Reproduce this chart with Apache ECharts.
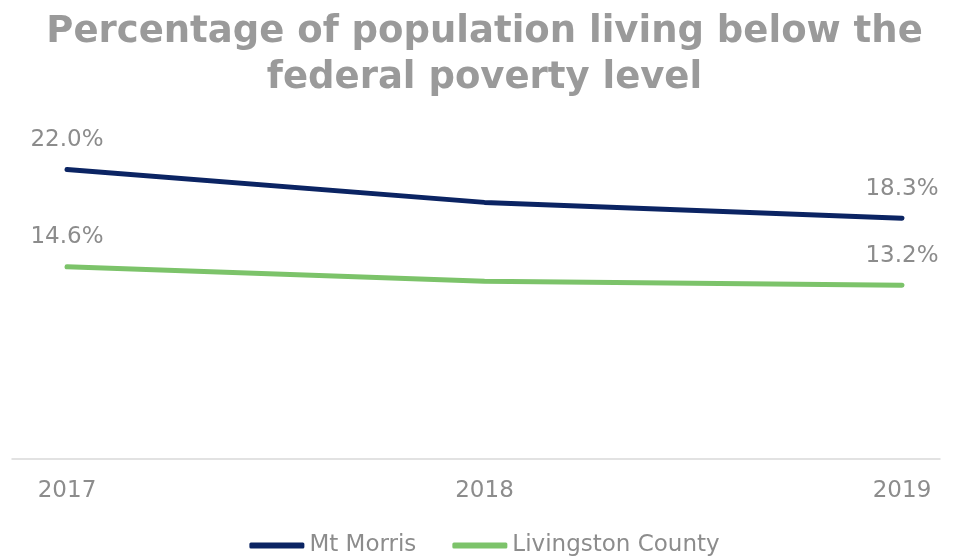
<!DOCTYPE html>
<html>
<head>
<meta charset="utf-8">
<script src="https://cdn.jsdelivr.net/npm/echarts@6/dist/echarts.min.js"></script>
<style>
  html, body { margin: 0; padding: 0; background: #fff; }
  #chart { width: 969px; height: 556px; }
</style>
</head>
<body>
<div id="chart"></div>
<script>
// chart values
var years = ['2017', '2018', '2019']
var mtMorris = [22.0, 19.5, 18.3]
var livingston = [14.6, 13.5, 13.2]
var seriesNames = ['Mt Morris', 'Livingston County']

var chart = echarts.init(document.getElementById('chart'))

// only first and last point carry a label
function withEndLabels (arr) {
  return arr.map(function (v, i) {
    var show = i === 0 || i === arr.length - 1
    return { value: v, label: { show: show } }
  })
}

var labelStyle = {
  position: 'top',
  distance: 18,
  color: '#8c8c8c',
  fontSize: 23,
  fontFamily: 'DejaVu Sans',
  formatter: function (p) { return p.value.toFixed(1) + '%' }
}

var option = {
  backgroundColor: '#fff',
  title: {
    text: 'Percentage of population living below the\nfederal poverty level',
    left: 'center',
    top: 4,
    textStyle: {
      color: '#9a9a9a',
      fontSize: 37,
      fontWeight: 'bold',
      fontFamily: 'DejaVu Sans',
      lineHeight: 46
    }
  },
  legend: {
    data: seriesNames,
    bottom: -6,
    left: 'center',
    icon: 'roundRect',
    itemWidth: 55,
    itemHeight: 6,
    itemGap: 36,
    textStyle: { color: '#8c8c8c', fontSize: 23, fontFamily: 'DejaVu Sans' }
  },
  grid: [
    { left: 12, right: 29, top: 130, bottom: 97 },
    { left: 67, right: 67, top: 130, bottom: 97 }
  ],
  xAxis: [
    {
      gridIndex: 0,
      type: 'category',
      data: years,
      axisLine: { lineStyle: { color: '#d9d9d9', width: 1.5 } },
      axisTick: { show: false },
      axisLabel: { show: false }
    },
    {
      gridIndex: 1,
      type: 'category',
      data: years,
      boundaryGap: false,
      axisLine: { show: false },
      axisTick: { show: false },
      axisLabel: {
        color: '#8c8c8c',
        fontSize: 23,
        fontFamily: 'DejaVu Sans',
        margin: 21
      }
    }
  ],
  yAxis: [
    { gridIndex: 0, type: 'value', min: 0, max: 25, show: false },
    { gridIndex: 1, type: 'value', min: 0, max: 25, show: false }
  ],
  series: [
    {
      name: seriesNames[0],
      type: 'line',
      xAxisIndex: 1,
      yAxisIndex: 1,
      data: withEndLabels(mtMorris),
      showSymbol: true,
      symbol: 'circle',
      symbolSize: 0,
      color: '#0b2463',
      lineStyle: { width: 5, color: '#0b2463', cap: 'round' },
      label: labelStyle
    },
    {
      name: seriesNames[1],
      type: 'line',
      xAxisIndex: 1,
      yAxisIndex: 1,
      data: withEndLabels(livingston),
      showSymbol: true,
      symbol: 'circle',
      symbolSize: 0,
      color: '#7cc36a',
      lineStyle: { width: 5, color: '#7cc36a', cap: 'round' },
      label: labelStyle
    }
  ]
}

chart.setOption(option)
</script>
</body>
</html>
